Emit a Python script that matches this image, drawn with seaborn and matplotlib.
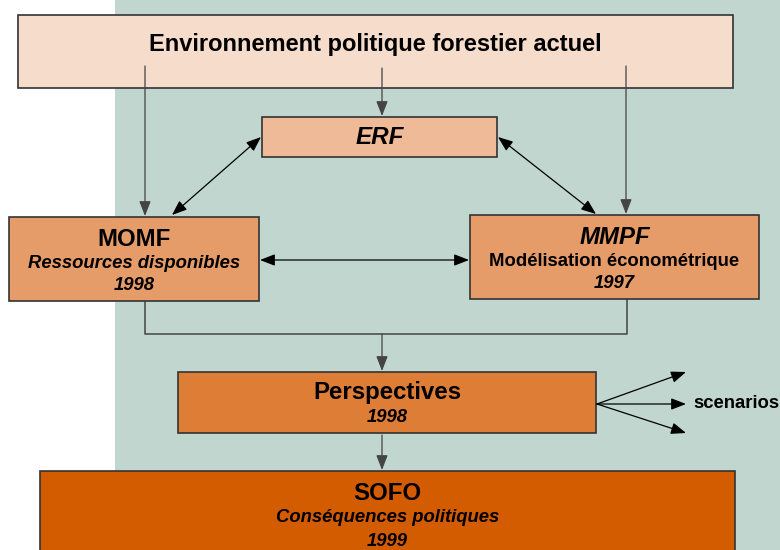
import seaborn as sns
import matplotlib.pyplot as plt
from matplotlib.patches import Rectangle

# ----------------------------------------------------------------
# Diagram content
# ----------------------------------------------------------------
box_names = ['ENV', 'ERF', 'MOMF', 'MMPF', 'PERSP', 'SOFO']
box_lines = [
    ['Environnement politique forestier actuel'],
    ['ERF'],
    ['MOMF', 'Ressources disponibles', '1998'],
    ['MMPF', 'Modélisation économétrique', '1997'],
    ['Perspectives', '1998'],
    ['SOFO', 'Conséquences politiques', '1999'],
]
box_colors = ['#F5DCCB', '#EEBA98', '#E69C69', '#E69C69', '#DD7D36', '#D35B00']
scenario_label = 'scenarios'

# geometry (x0, y0, x1, y1) in pixel space, y downwards
box_geom = {
    'ENV': (18, 15, 733, 88),
    'ERF': (262, 117, 497, 157),
    'MOMF': (9, 217, 259, 301),
    'MMPF': (470, 215, 759, 299),
    'PERSP': (178, 372, 596, 433),
    'SOFO': (40, 471, 735, 560),
}
# text rows: (y, size, weight, style) per line
H, S = 17.3, 13.3
text_rows = {
    'ENV': [(45, 17.0, 'bold', 'normal')],
    'ERF': [(138, 17.5, 'bold', 'italic')],
    'MOMF': [(240, H, 'bold', 'normal'), (263, S, 'bold', 'italic'), (286, S, 'bold', 'italic')],
    'MMPF': [(238, H, 'bold', 'italic'), (262, S, 'bold', 'normal'), (284, S, 'bold', 'italic')],
    'PERSP': [(393, H, 'bold', 'normal'), (418, S, 'bold', 'italic')],
    'SOFO': [(493, H, 'bold', 'normal'), (518, S, 'bold', 'italic'), (541, S, 'bold', 'italic')],
}

sns.set_style('white')
plt.rcParams['font.family'] = ['Liberation Sans', 'DejaVu Sans']

fig = plt.figure(figsize=(7.8, 5.5), dpi=100)
ax = fig.add_axes([0, 0, 1, 1])
ax.set_xlim(0, 780)
ax.set_ylim(550, 0)
ax.axis('off')

# teal background panel
ax.add_patch(Rectangle((115, 0), 665, 550, facecolor='#C0D6CF', edgecolor='none', zorder=0))

for name, lines, color in zip(box_names, box_lines, box_colors):
    x0, y0, x1, y1 = box_geom[name]
    ax.add_patch(Rectangle((x0, y0), x1 - x0, y1 - y0, facecolor=color,
                           edgecolor='#333333', linewidth=1.2, zorder=2))
    cx = (x0 + x1) / 2
    for txt, (y, size, weight, style) in zip(lines, text_rows[name]):
        ax.text(cx, y, txt, ha='center', va='center', fontsize=size,
                fontweight=weight, fontstyle=style, color='black', zorder=3)


def arrow(p0, p1, style='-|>', color='black'):
    ax.annotate('', xy=p1, xytext=p0,
                arrowprops=dict(arrowstyle=style + ',head_length=0.9,head_width=0.35',
                                color=color, lw=0.9, shrinkA=0, shrinkB=0),
                zorder=4)


line_col = '#444444'
# from top box downwards
arrow((145, 66), (145, 216), color=line_col)
arrow((382, 68), (382, 116), color=line_col)
arrow((626, 66), (626, 214), color=line_col)
# double arrows around ERF
arrow((172, 215), (261, 137), style='<|-|>')
arrow((596, 214), (498, 137), style='<|-|>')
# MOMF <-> MMPF
arrow((260, 260), (469, 260), style='<|-|>')
# merge lines into Perspectives
ax.plot([145, 145, 627, 627], [301, 334, 334, 299], color=line_col, lw=1.1, zorder=1)
arrow((382, 334), (382, 371), color=line_col)
# scenarios fan
for yy in (372, 404, 433):
    arrow((597, 404), (686, yy))
ax.text(693, 404, scenario_label, ha='left', va='center', fontsize=13.3,
        fontweight='bold', color='black')
# Perspectives -> SOFO
arrow((382, 435), (382, 470), color=line_col)

plt.savefig('out.png', dpi=100)
